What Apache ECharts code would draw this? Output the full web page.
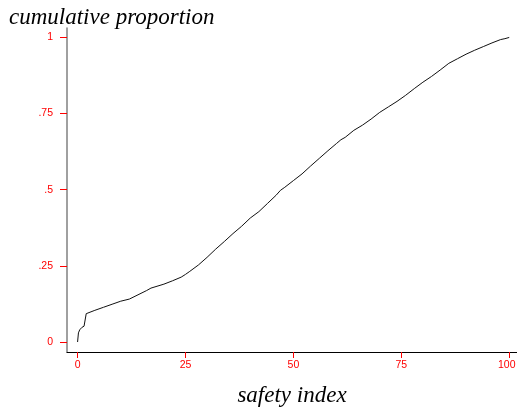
<!DOCTYPE html>
<html>
<head>
<meta charset="utf-8">
<script src="https://cdn.jsdelivr.net/npm/echarts@6/dist/echarts.min.js"></script>
<style>
html,body{margin:0;padding:0;background:#fff;}
#chart{width:517px;height:407px;}
</style>
</head>
<body>
<div id="chart"></div>
<script>
// Data
const safetyIndex = [0, 0.2, 0.5, 1.0, 1.5, 1.9, 2.0, 4, 6, 8, 10, 12, 14, 16, 17, 20, 22, 24, 25, 26, 28, 30, 32, 34, 36, 38, 40, 42, 44, 46, 47, 48, 50, 52, 54, 56, 58, 60, 61, 62, 64, 66, 68, 70, 72, 74, 76, 78, 80, 82, 84, 86, 88, 90, 92, 94, 96, 98, 99, 100];
const cumProportion = [0, 0.03, 0.04, 0.048, 0.052, 0.055, 0.093, 0.104, 0.114, 0.124, 0.134, 0.141, 0.155, 0.169, 0.177, 0.19, 0.201, 0.213, 0.222, 0.232, 0.253, 0.278, 0.305, 0.33, 0.356, 0.38, 0.407, 0.428, 0.455, 0.482, 0.498, 0.508, 0.53, 0.552, 0.578, 0.603, 0.628, 0.652, 0.664, 0.672, 0.695, 0.712, 0.732, 0.754, 0.772, 0.79, 0.81, 0.832, 0.853, 0.872, 0.893, 0.915, 0.93, 0.945, 0.958, 0.97, 0.982, 0.993, 0.996, 1.0];
const xTickValues = [0, 25, 50, 75, 100];
const xTickLabels = ['0', '25', '50', '75', '100'];
const yTickValues = [0, 0.25, 0.5, 0.75, 1];
const yTickLabels = ['0', '.25', '.5', '.75', '1'];
const yTitle = 'cumulative proportion';
const xTitle = 'safety index';

const chart = echarts.init(document.getElementById('chart'), null, {renderer: 'canvas'});
chart.setOption({
  animation: false,
  backgroundColor: '#fff',
  title: {
    text: yTitle,
    left: 9,
    top: 6,
    padding: 0,
    textStyle: {fontFamily: 'Liberation Serif', fontStyle: 'italic', fontWeight: 'normal', fontSize: 23, color: '#000'}
  },
  grid: {left: 67, right: 0, top: 28, bottom: 55, containLabel: false, outerBoundsMode: 'none'},
  xAxis: {
    type: 'value',
    min: -2.45,
    max: 101.8,
    name: xTitle,
    nameLocation: 'middle',
    nameGap: 32,
    nameTextStyle: {fontFamily: 'Liberation Serif', fontStyle: 'italic', fontSize: 23, color: '#000'},
    splitLine: {show: false},
    axisLine: {show: true, onZero: false, lineStyle: {color: '#000', width: 1}},
    axisTick: {show: true, length: 6, customValues: xTickValues, lineStyle: {color: '#ff0000', width: 1}},
    axisLabel: {
      customValues: xTickValues,
      margin: 8,
      fontFamily: 'Liberation Sans',
      fontSize: 10.5,
      color: '#ff0000',
      rich: {e: {fontFamily: 'Liberation Sans', fontSize: 10.5, color: '#ff0000', padding: [0, 5, 0, 0]}},
      formatter: function (v) {
        const i = xTickValues.indexOf(v);
        if (i < 0) return '';
        return i === xTickValues.length - 1 ? '{e|' + xTickLabels[i] + '}' : xTickLabels[i];
      }
    }
  },
  yAxis: {
    type: 'value',
    min: -0.0328,
    max: 1.031,
    splitLine: {show: false},
    axisLine: {show: true, onZero: false, lineStyle: {color: '#808080', width: 1.5}},
    axisTick: {show: true, length: 7, customValues: yTickValues, lineStyle: {color: '#ff0000', width: 1}},
    axisLabel: {
      customValues: yTickValues,
      margin: 14,
      fontFamily: 'Liberation Sans',
      fontSize: 10.5,
      color: '#ff0000',
      formatter: function (v) { const i = yTickValues.indexOf(v); return i >= 0 ? yTickLabels[i] : ''; }
    }
  },
  series: [{
    type: 'line',
    data: safetyIndex.map((x, i) => [x, cumProportion[i]]),
    showSymbol: false,
    symbol: 'none',
    lineStyle: {color: '#111', width: 1},
    silent: true
  }]
});
</script>
</body>
</html>
